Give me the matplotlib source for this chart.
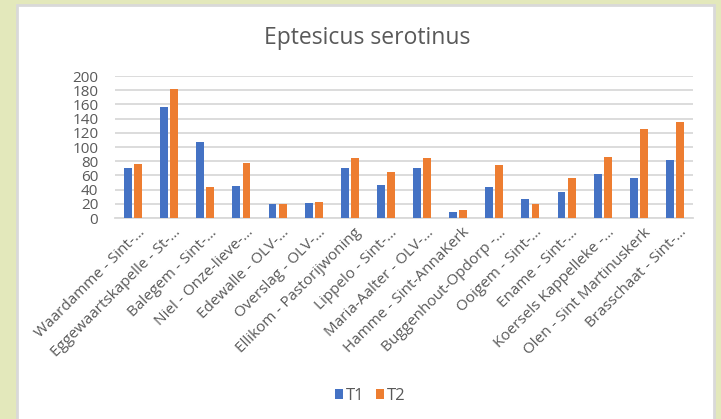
import matplotlib
matplotlib.use('Agg')
import matplotlib.pyplot as plt
import matplotlib.patches as mpatches
import matplotlib.transforms as mtransforms
import numpy as np

# *************************************************************************
# Data

locations = ['Waardamme - Sint-…', 'Eggewaartskapelle - St-…', 'Balegem - Sint-…',
             'Niel - Onze-lieve-…', 'Edewalle - OLV-…', 'Overslag - OLV-…',
             'Ellikom - Pastorijwoning', 'Lippelo - Sint-…', 'Maria-Aalter - OLV-…',
             'Hamme - Sint-AnnaKerk', 'Buggenhout-Opdorp -…', 'Ooigem - Sint-…',
             'Ename - Sint-…', 'Koersels Kappelleke -…', 'Olen - Sint Martinuskerk',
             'Brasschaat - Sint-…']
t1 = [71, 156, 107, 45, 20, 21, 70, 46, 70, 8, 44, 27, 36, 62, 57, 81]
t2 = [76, 181, 43, 78, 20, 23, 84, 65, 84, 11, 74, 20, 56, 86, 126, 135]
series_names = ['T1', 'T2']
y_ticks = [0, 20, 40, 60, 80, 100, 120, 140, 160, 180, 200]

# *************************************************************************
plt.rcParams['font.family'] = ['Open Sans', 'DejaVu Sans']
text_grey = '#595959'
blue = '#4472C4'
orange = '#ED7D31'

fig = plt.figure(figsize=(7.21, 4.19), dpi=100)
fig.patch.set_facecolor('#e3e8bb')

# white chart panel with a light grey border
panel = mpatches.Rectangle((17 / 721, -0.01), (714 - 17) / 721, 1 - 5 / 419 + 0.01,
                           transform=fig.transFigure, facecolor='white',
                           edgecolor='#d9d9d9', linewidth=2, zorder=-10)
fig.patches.append(panel)

ax = fig.add_axes([115 / 721, 1 - 218 / 419, (693 - 115) / 721, (218 - 76) / 419])
ax.set_facecolor('none')

x = np.arange(len(locations))
w = 0.22
ax.bar(x - 0.14, t1, width=w, color=blue, zorder=3, label=series_names[0])
ax.bar(x + 0.14, t2, width=w, color=orange, zorder=3, label=series_names[1])

ax.set_xlim(-0.5, len(locations) - 0.5)
ax.set_ylim(0, 200)
ax.set_yticks(y_ticks)
ax.yaxis.grid(True, color='#d9d9d9', linewidth=1.3, zorder=0)
ax.set_axisbelow(True)

for s in ['top', 'right', 'left']:
    ax.spines[s].set_visible(False)
ax.spines['bottom'].set_color('#d9d9d9')
ax.spines['bottom'].set_linewidth(1.3)

ax.tick_params(axis='both', length=0, colors=text_grey, labelsize=11)
ax.tick_params(axis='y', pad=12)
ax.set_xticks(x)
ax.set_xticklabels(locations, rotation=45, ha='right', rotation_mode='anchor')
offset = mtransforms.ScaledTranslation(4 / 100, -2 / 100, fig.dpi_scale_trans)
for lab in ax.get_xticklabels():
    lab.set_transform(lab.get_transform() + offset)

fig.text(367 / 721, 1 - 38 / 419, 'Eptesicus serotinus', ha='center', va='center',
         fontsize=16.5, color=text_grey)

fig.legend(loc='center', bbox_to_anchor=(370 / 721, 1 - 396 / 419), ncol=2, frameon=False,
           fontsize=12, labelcolor=text_grey, handlelength=0.5, handleheight=0.5,
           handletextpad=0.15, columnspacing=0.7)

fig.savefig('out.png', dpi=100, facecolor=fig.get_facecolor())
